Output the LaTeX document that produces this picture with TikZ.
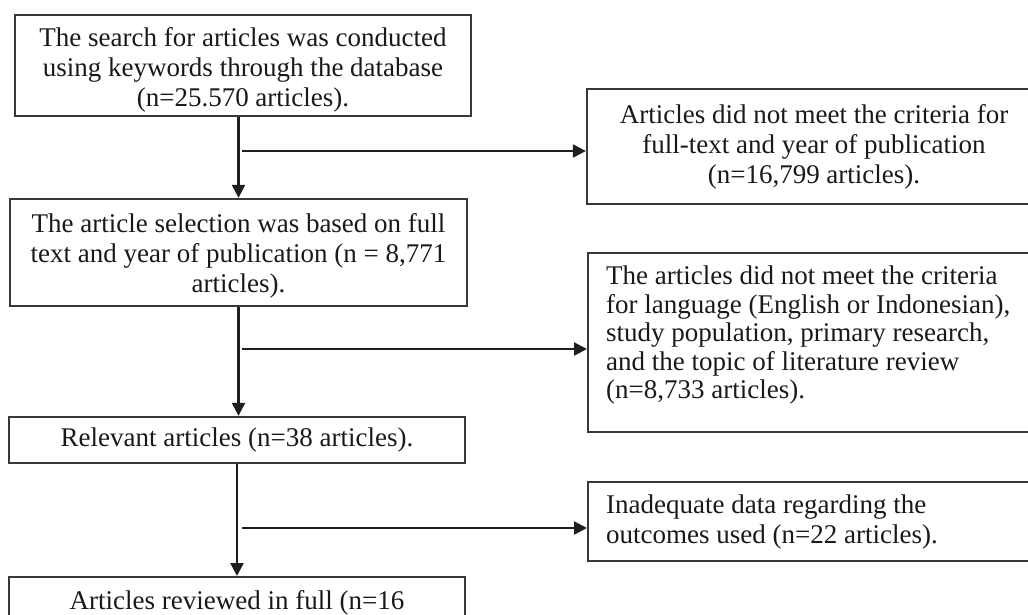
\documentclass[tikz,border=0pt]{standalone}
\usepackage{fontspec}
\setmainfont{Liberation Serif}
\usetikzlibrary{arrows.meta}
\begin{document}
\begin{tikzpicture}[x=1pt,y=-1pt,
  box/.style={draw=black!78, line width=2.3pt, rectangle, inner sep=0pt, text=black!90,
    font=\fontsize{27pt}{30pt}\selectfont},
  cbox/.style={box, align=center},
  lbox/.style={box, align=flush left, inner xsep=18pt, text width=434pt, anchor=west},
  conn/.style={draw=black!88, line width=2.3pt, -{Triangle[length=13pt,width=13pt]}}]
\useasboundingbox (0,0) rectangle (1028,614);
\clip (0,0) rectangle (1028,614);
\node[cbox, minimum width=456pt, minimum height=101pt] (b1) at (243,65.5)
  {\rule{0pt}{27pt}The search for articles was conducted\\using keywords through the database\\(n=25.570 articles).};
\node[cbox, minimum width=454pt, minimum height=115pt] (b2) at (814,146.5)
  {Articles did not meet the criteria for\\full-text and year of publication\\(n=16,799 articles).};
\node[cbox, minimum width=457pt, minimum height=107pt] (b3) at (238.5,252.5)
  {\rule{0pt}{25pt}The article selection was based on full\\text and year of publication (n = 8,771\\articles).};
\node[lbox, minimum height=179pt, font=\fontsize{27pt}{28.5pt}\selectfont] (b4) at (587,342.5)
  {The articles did not meet the criteria\\for language (English or Indonesian),\\study population, primary research,\\and the topic of literature review\\(n=8,733 articles).\rule[-20pt]{0pt}{0pt}};
\node[cbox, minimum width=456pt, minimum height=46pt] (b5) at (237,440)
  {Relevant articles (n=38 articles).};
\node[lbox, minimum height=79pt] (b6) at (587,521.5)
  {Inadequate data regarding the\\outcomes used (n=22 articles).};
\node[box, anchor=north, minimum width=456pt, inner ysep=13pt, text height=19pt, text depth=6pt] (b7) at (237,576)
  {Articles reviewed in full (n=16};
\coordinate (j1) at (242,151);
\coordinate (j2) at (242,349);
\coordinate (j3) at (242,528);
\draw[conn] (b1.south -| b3.north) -- (b3.north);
\draw[conn] (j1) -- (j1 -| b2.west);
\draw[conn] (b3.south) -- (b3.south |- b5.north);
\draw[conn] (j2) -- (j2 -| b4.west);
\draw[conn] (b5.south) -- (b7.north);
\draw[conn] (j3) -- (j3 -| b6.west);
\end{tikzpicture}
\end{document}
